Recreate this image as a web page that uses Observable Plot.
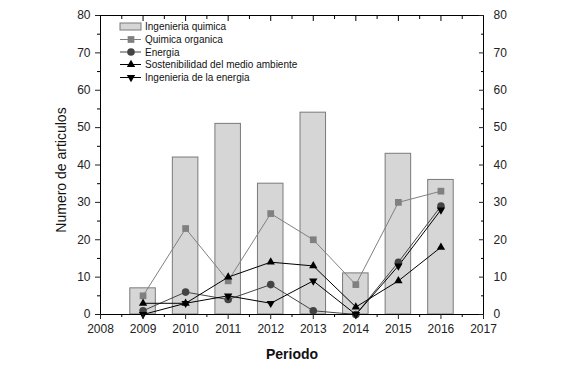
<!DOCTYPE html>
<html>
<head>
<meta charset="utf-8">
<script src="https://cdn.jsdelivr.net/npm/d3@7"></script>
<script src="https://cdn.jsdelivr.net/npm/@observablehq/plot@0.6"></script>
<style>
  html, body { margin: 0; padding: 0; background: #fff; }
  #chart { width: 561px; height: 384px; }
  svg { font-family: "Liberation Sans", Arial, sans-serif; }
</style>
</head>
<body>
<div id="chart"></div>
<script>
const years = [2009, 2010, 2011, 2012, 2013, 2014, 2015, 2016];
const ingQuimica = [7, 42, 51, 35, 54, 11, 43, 36];
const quimOrganica = [5, 23, 9, 27, 20, 8, 30, 33];
const energia = [1, 6, 4, 8, 1, 0, 14, 29];
const sostenibilidad = [3, 3, 10, 14, 13, 2, 9, 18];
const ingEnergia = [0, 3, 5, 3, 9, 0, 13, 28];
const seriesNames = ["Ingenieria quimica", "Quimica organica", "Energia", "Sostenibilidad del medio ambiente", "Ingenieria de la energia"];
const xTicks = [2008, 2009, 2010, 2011, 2012, 2013, 2014, 2015, 2016, 2017];
const yTicks = [0, 10, 20, 30, 40, 50, 60, 70, 80];

const bars = years.map((y, i) => ({year: y, v: ingQuimica[i]}));
const mk = (arr) => years.map((y, i) => ({year: y, v: arr[i]}));
const lineSeries = [
  {name: seriesNames[1], data: mk(quimOrganica), color: "#808080", symbol: "square", rotate: 0, r: 3.8},
  {name: seriesNames[2], data: mk(energia), color: "#444444", symbol: "circle", rotate: 0, r: 3.8},
  {name: seriesNames[3], data: mk(sostenibilidad), color: "#000000", symbol: "triangle", rotate: 0, r: 3.1},
  {name: seriesNames[4], data: mk(ingEnergia), color: "#000000", symbol: "triangle", rotate: 180, r: 3.1}
];
const halfYears = d3.range(2008.5, 2017, 1);
const fives = d3.range(5, 80, 10);

const marks = [
  Plot.rectY(bars, {x1: d => d.year - 0.3, x2: d => d.year + 0.3, y1: 0, y2: "v", fill: "#d6d6d6", stroke: "#7a7a7a", strokeWidth: 1}),
];
for (const s of lineSeries) {
  marks.push(Plot.line(s.data, {x: "year", y: "v", stroke: s.color, strokeWidth: 1}));
}
for (const s of lineSeries) {
  marks.push(Plot.dot(s.data, {x: "year", y: "v", fill: s.color, symbol: s.symbol, r: s.r, rotate: s.rotate, stroke: "none"}));
}
marks.push(
  Plot.frame({stroke: "#000", strokeWidth: 1}),
  Plot.axisY({anchor: "left", ticks: yTicks, tickSize: 5, tickPadding: 5, fontSize: 12, label: null, color: "#222"}),
  Plot.axisY({anchor: "left", ticks: fives, tickSize: 3, text: null, label: null}),
  Plot.axisY({anchor: "right", ticks: yTicks, tickSize: -5, tickPadding: 15, fontSize: 12, label: null, color: "#222"}),
  Plot.axisY({anchor: "right", ticks: fives, tickSize: -3, text: null, label: null}),
  Plot.axisX({anchor: "bottom", ticks: xTicks, tickSize: 5, tickPadding: 5, fontSize: 12, tickFormat: d => String(d), label: null, color: "#222"}),
  Plot.axisX({anchor: "bottom", ticks: halfYears, tickSize: 3, text: null, label: null}),
  Plot.axisX({anchor: "top", ticks: xTicks, tickSize: -5, text: null, label: null}),
  Plot.axisX({anchor: "top", ticks: halfYears, tickSize: -3, text: null, label: null}),
  Plot.text(["Periodo"], {frameAnchor: "bottom", dy: 44, fontSize: 14, fontWeight: "bold", fill: "#111"}),
  Plot.text(["Numero de articulos"], {frameAnchor: "left", textAnchor: "middle", dx: -39, dy: 5, rotate: -90, fontSize: 14, fill: "#111"})
);

const chart = Plot.plot({
  width: 561,
  height: 384,
  marginLeft: 100,
  marginRight: 78,
  marginTop: 15,
  marginBottom: 70,
  x: {domain: [2008, 2017], axis: null},
  y: {domain: [0, 80], axis: null},
  style: {fontFamily: "Liberation Sans, Arial, sans-serif", background: "#fff"},
  marks
});
document.getElementById("chart").appendChild(chart);

// Legend inside the plot area
const svg = d3.select(chart);
const lg = svg.append("g").attr("font-family", "Liberation Sans, Arial, sans-serif")
  .attr("font-size", 10).attr("fill", "#111").attr("text-anchor", "start");
const rowY = [26.5, 39.5, 52, 64.5, 77.5];
lg.append("rect").attr("x", 120).attr("y", 23).attr("width", 21).attr("height", 7)
  .attr("fill", "#d6d6d6").attr("stroke", "#7a7a7a");
lg.append("text").attr("x", 145).attr("y", rowY[0]).attr("dy", "0.35em").attr("text-anchor", "start").text(seriesNames[0]);
const symGen = {square: d3.symbolSquare, circle: d3.symbolCircle, triangle: d3.symbolTriangle};
lineSeries.forEach((s, i) => {
  const yy = rowY[i + 1];
  lg.append("line").attr("x1", 120).attr("x2", 141).attr("y1", yy).attr("y2", yy).attr("stroke", s.color);
  lg.append("path").attr("d", d3.symbol(symGen[s.symbol], Math.PI * s.r * s.r)())
    .attr("transform", `translate(131,${yy}) rotate(${s.rotate})`).attr("fill", s.color);
  lg.append("text").attr("x", 145).attr("y", yy).attr("dy", "0.35em").attr("text-anchor", "start").text(s.name);
});
</script>
</body>
</html>
